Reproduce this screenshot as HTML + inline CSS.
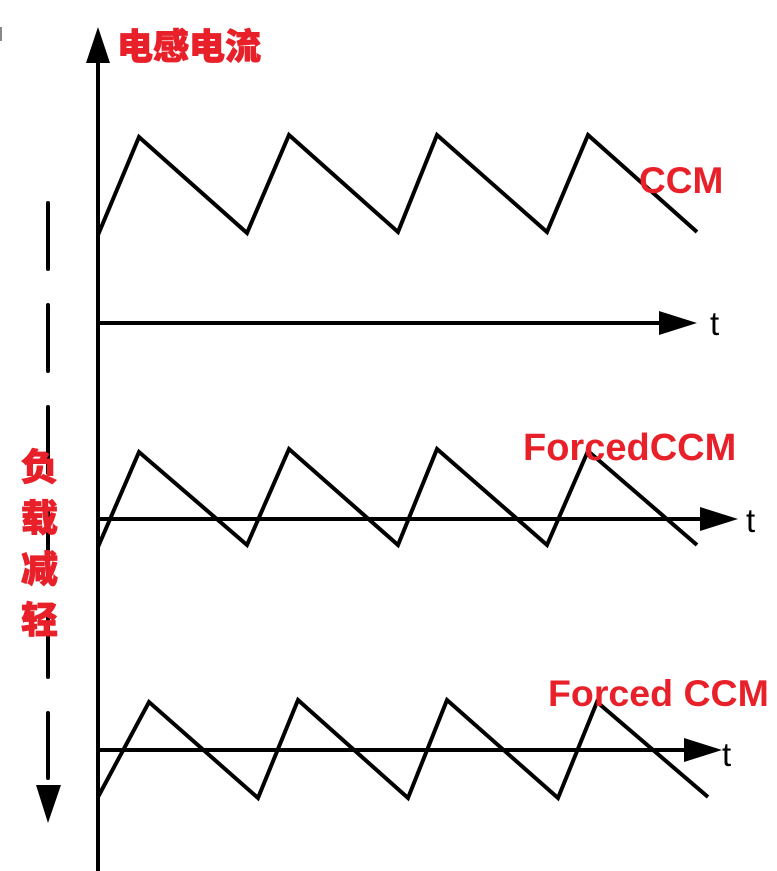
<!DOCTYPE html>
<html><head><meta charset="utf-8"><style>
html,body{margin:0;padding:0;background:#fff;}
svg{display:block}
text{font-family:"Liberation Sans","Noto Sans CJK SC",sans-serif;}
.r{fill:#e8202a;font-weight:bold;}
.c{font-family:"Noto Sans CJK SC",sans-serif;font-weight:900;fill:#e8202a;}
</style></head><body>
<svg width="777" height="871" viewBox="0 0 777 871" xmlns="http://www.w3.org/2000/svg">
<rect x="0" y="27" width="2" height="14" fill="#888"/>
<line x1="98" y1="55" x2="98" y2="871" stroke="#000" stroke-width="4"/>
<polygon points="98,27 86,63 110,63" fill="#000"/>
<text class="c" x="117" y="59" font-size="36" stroke="#e8202a" stroke-width="0.8">电感电流</text>
<line x1="48" y1="203" x2="48" y2="778" stroke="#000" stroke-width="4" stroke-dasharray="66,36" stroke-linecap="round"/>
<polygon points="36,785 61,785 48,823" fill="#000"/>
<g class="c" font-size="37" stroke="#e8202a" stroke-width="0.8">
<text x="21" y="480">负</text>
<text x="21" y="531">载</text>
<text x="21" y="582">减</text>
<text x="21" y="633">轻</text>
</g>
<polyline points="98,235 139,137 247,233 289,135 398,232 437,135 547,232 588,135 697,232" fill="none" stroke="#000" stroke-width="4"/>
<line x1="98" y1="323" x2="665" y2="323" stroke="#000" stroke-width="4"/>
<polygon points="697,323 659,311 659,335" fill="#000"/>
<text x="710" y="335" font-size="33">t</text>
<text class="r" x="639" y="193" font-size="37">CCM</text>
<polyline points="98,547 139,452 247,545 289,449 398,545 437,449 547,545 588,451 697,545" fill="none" stroke="#000" stroke-width="4"/>
<line x1="98" y1="519" x2="705" y2="519" stroke="#000" stroke-width="4"/>
<polygon points="738,519 700,507 700,531" fill="#000"/>
<text x="746" y="532" font-size="33">t</text>
<text class="r" x="523" y="460" font-size="38">ForcedCCM</text>
<polygon points="722,750 684,738 684,762" fill="#000"/>
<polyline points="98,797 149,702 258,798 298,700 408,798 447,700 558,798 597,702 708,797" fill="none" stroke="#000" stroke-width="4"/>
<line x1="98" y1="750" x2="690" y2="750" stroke="#000" stroke-width="4"/>
<text x="722" y="766" font-size="33">t</text>
<text class="r" x="548" y="706" font-size="37.5">Forced CCM</text>
</svg>
</body></html>
